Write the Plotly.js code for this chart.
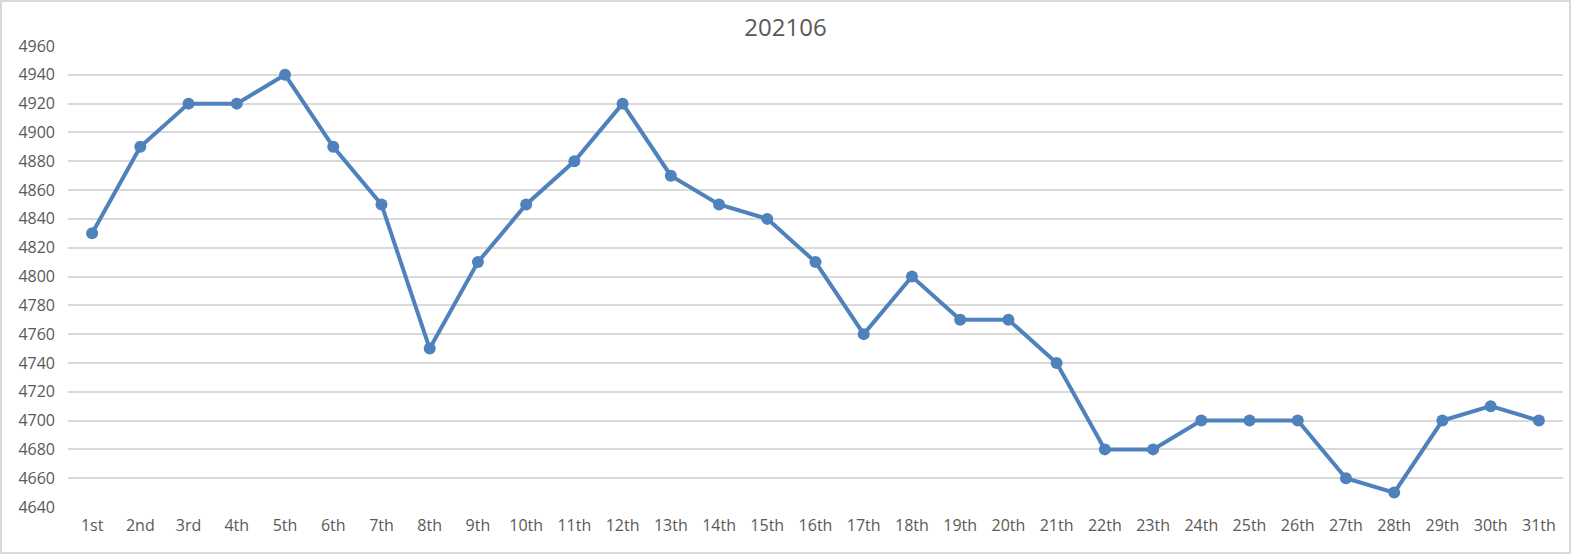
<!DOCTYPE html>
<html>
<head>
<meta charset="utf-8">
<script src="https://cdn.plot.ly/plotly-3.0.1.min.js"></script>
<style>
html,body{margin:0;padding:0;background:#fff;}
#wrap{width:1571px;height:554px;box-sizing:border-box;border:2px solid #d9d9d9;position:relative;overflow:hidden;}
#chart{position:absolute;left:-2px;top:-2px;width:1571px;height:554px;}
</style>
</head>
<body>
<div id="wrap"><div id="chart"></div></div>
<script>
const days = ["1st","2nd","3rd","4th","5th","6th","7th","8th","9th","10th","11th","12th","13th","14th","15th","16th","17th","18th","19th","20th","21th","22th","23th","24th","25th","26th","27th","28th","29th","30th","31th"];
const values = [4830,4890,4920,4920,4940,4890,4850,4750,4810,4850,4880,4920,4870,4850,4840,4810,4760,4800,4770,4770,4740,4680,4680,4700,4700,4700,4660,4650,4700,4710,4700];
const chartTitle = "202106";

const labelFont = {family: "Open Sans, Liberation Sans, sans-serif", size: 16, color: "#595959"};

Plotly.newPlot("chart", [{
  x: days,
  y: values,
  type: "scatter",
  mode: "lines+markers",
  line: {color: "#4f81bd", width: 4},
  marker: {color: "#4f81bd", size: 12},
  hoverinfo: "x+y"
}], {
  width: 1571,
  height: 554,
  margin: {l: 68, r: 8, t: 46, b: 47},
  paper_bgcolor: "rgba(0,0,0,0)",
  plot_bgcolor: "#fff",
  showlegend: false,
  title: {text: chartTitle, x: 0.5, xanchor: "center", y: 0.95, yanchor: "middle",
          font: {family: "Open Sans, Liberation Sans, sans-serif", size: 24, color: "#595959"}},
  xaxis: {
    type: "category",
    range: [-0.5, 30.5],
    showgrid: false,
    showline: false,
    zeroline: false,
    ticks: "",
    tickfont: labelFont,
    ticklabelstandoff: 7
  },
  yaxis: {
    range: [4640, 4960],
    dtick: 20,
    tick0: 4640,
    showgrid: true,
    gridcolor: "#d9d9d9",
    gridwidth: 1.5,
    zeroline: false,
    showline: false,
    ticks: "",
    tickfont: labelFont,
    ticklabelstandoff: 12
  }
}, {displayModeBar: false, staticPlot: false});
</script>
</body>
</html>
